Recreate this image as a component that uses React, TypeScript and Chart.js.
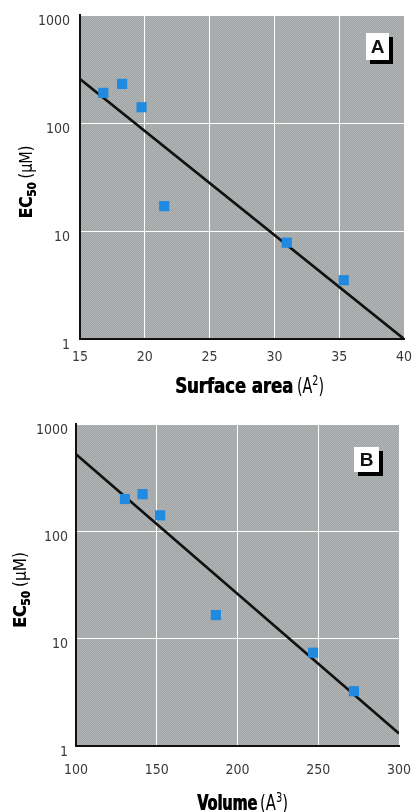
import React, { useEffect, useRef } from "react";
import { Chart, registerables } from "chart.js";

Chart.register(...registerables);

// ---------- DATA ----------
const surfaceArea = [16.8, 18.25, 19.75, 21.5, 30.95, 35.35];
const ec50A = [190, 230, 140, 17, 7.8, 3.5];
const fitAx = [15, 40];
const fitAy = [255, 1];

const volume = [130.3, 141.2, 152.1, 186.6, 246.8, 272.1];
const ec50B = [200, 222, 141, 16.6, 7.4, 3.24];
const fitBx = [100, 300];
const fitBy = [522, 1.31];

const yTicks = [1, 10, 100, 1000];
const xTicksA = [15, 20, 25, 30, 35, 40];
const xTicksB = [100, 150, 200, 250, 300];

const panelLabels = ["A", "B"];
const xTitleMain = ["Surface area", "Volume"];
const xTitleSup = ["2", "3"];

// ---------- STYLE ----------
const NARROW = '"Liberation Sans Narrow", "DejaVu Sans Condensed", "Liberation Sans", sans-serif';
const HEAVY = '"DejaVu Sans", sans-serif';
const SANS = '"Liberation Sans", Arial, sans-serif';
const BLUE = "#1f8ae0";

let bgPattern: CanvasPattern | null = null;
function getPattern(ctx: CanvasRenderingContext2D) {
  if (bgPattern) return bgPattern;
  const c = document.createElement("canvas");
  c.width = 2;
  c.height = 2;
  const g = c.getContext("2d")!;
  g.fillStyle = "#a3a6a6";
  g.fillRect(0, 0, 2, 2);
  g.fillStyle = "#b0b3b3";
  g.fillRect(0, 0, 1, 1);
  g.fillRect(1, 1, 1, 1);
  bgPattern = ctx.createPattern(c, "repeat");
  return bgPattern;
}

type Run = { text: string; font: string; dy?: number; embolden?: number };
// draws runs left-aligned at (x0, baseline y0), squeezed horizontally to targetW
function drawGroup(ctx: CanvasRenderingContext2D, runs: Run[], x0: number, y0: number, targetW: number) {
  let total = 0;
  const widths = runs.map((r) => {
    ctx.font = r.font;
    const w = ctx.measureText(r.text).width;
    total += w;
    return w;
  });
  const sx = targetW / total;
  ctx.save();
  ctx.translate(x0, y0);
  ctx.scale(sx, 1);
  let x = 0;
  ctx.textBaseline = "alphabetic";
  ctx.textAlign = "left";
  runs.forEach((r, i) => {
    ctx.font = r.font;
    ctx.fillText(r.text, x, r.dy || 0);
    if (r.embolden) {
      ctx.fillText(r.text, x + r.embolden / sx, r.dy || 0);
    }
    x += widths[i];
  });
  ctx.restore();
}

type Cfg = {
  idx: number;
  xs: number[];
  ys: number[];
  fx: number[];
  fy: number[];
  xTicks: number[];
  height: number;
  padTop: number;
  padRight: number;
  yWidth: number;
  xHeight: number;
  xPad: number;
  yPad: number;
  xt: { x: number; y: number; w1: number; gap: number; w2: number };
  yt: { cx: number; cy: number; w1: number; gap: number; w2: number };
  box: { dx: number; dy: number; w: number; h: number };
};

const configs: Cfg[] = [
  {
    idx: 0,
    xs: surfaceArea,
    ys: ec50A,
    fx: fitAx,
    fy: fitAy,
    xTicks: xTicksA,
    height: 400,
    padTop: 15,
    padRight: 8,
    yWidth: 80,
    xHeight: 61,
    xPad: 10,
    yPad: 10,
    xt: { x: 175, y: 393, w1: 118, gap: 4, w2: 27 },
    yt: { cx: 26, cy: 182, w1: 36, gap: 4, w2: 33 },
    box: { dx: 38, dy: 18, w: 23, h: 27 },
  },
  {
    idx: 1,
    xs: volume,
    ys: ec50B,
    fx: fitBx,
    fy: fitBy,
    xTicks: xTicksB,
    height: 412,
    padTop: 24,
    padRight: 13,
    yWidth: 76,
    xHeight: 66,
    xPad: 16,
    yPad: 8,
    xt: { x: 197, y: 410, w1: 60, gap: 3, w2: 28 },
    yt: { cx: 20, cy: 190, w1: 37, gap: 4, w2: 35 },
    box: { dx: 45, dy: 23, w: 25, h: 25 },
  },
];

function makeChart(canvas: HTMLCanvasElement, cfg: Cfg) {
  const decor = {
    id: "decor" + cfg.idx,
    beforeDraw(chart: any) {
      const { ctx, chartArea } = chart;
      ctx.save();
      ctx.fillStyle = getPattern(ctx);
      ctx.fillRect(chartArea.left, chartArea.top, chartArea.right - chartArea.left, chartArea.bottom - chartArea.top);
      ctx.restore();
    },
    afterDraw(chart: any) {
      const { ctx, chartArea } = chart;
      ctx.save();
      // panel label box
      const bx = chartArea.right - cfg.box.dx;
      const by = chartArea.top + cfg.box.dy;
      ctx.fillStyle = "#000";
      ctx.fillRect(bx + 4, by + 4, cfg.box.w, cfg.box.h);
      ctx.fillStyle = "#fff";
      ctx.fillRect(bx, by, cfg.box.w, cfg.box.h);
      ctx.fillStyle = "#111";
      ctx.font = "bold 19px " + SANS;
      ctx.textAlign = "center";
      ctx.textBaseline = "middle";
      ctx.fillText(panelLabels[cfg.idx], bx + cfg.box.w / 2, by + cfg.box.h / 2 + 1);

      // x title
      ctx.fillStyle = "#000";
      const xt = cfg.xt;
      drawGroup(ctx, [{ text: xTitleMain[cfg.idx], font: "bold 21px " + HEAVY, embolden: 0.7 }], xt.x, xt.y, xt.w1);
      drawGroup(
        ctx,
        [
          { text: "(A", font: "21px " + NARROW },
          { text: xTitleSup[cfg.idx], font: "14px " + NARROW, dy: -8 },
          { text: ")", font: "21px " + NARROW },
        ],
        xt.x + xt.w1 + xt.gap,
        xt.y,
        xt.w2
      );

      // y title (rotated)
      const yt = cfg.yt;
      const total = yt.w1 + yt.gap + yt.w2;
      ctx.translate(yt.cx + 6, yt.cy);
      ctx.rotate(-Math.PI / 2);
      drawGroup(
        ctx,
        [
          { text: "EC", font: "bold 18px " + HEAVY, embolden: 0.6 },
          { text: "50", font: "bold 12px " + HEAVY, dy: 4, embolden: 0.4 },
        ],
        -total / 2,
        0,
        yt.w1
      );
      drawGroup(ctx, [{ text: "(μM)", font: "18px " + NARROW }], -total / 2 + yt.w1 + yt.gap, 0, yt.w2);
      ctx.restore();
    },
  };

  return new Chart(canvas, {
    type: "scatter",
    data: {
      datasets: [
        {
          data: cfg.xs.map((x, i) => ({ x, y: cfg.ys[i] })),
          backgroundColor: BLUE,
          borderColor: BLUE,
          borderWidth: 0,
          pointStyle: "rect",
          pointRadius: 7.2,
          order: 0,
        },
        {
          type: "line",
          data: cfg.fx.map((x, i) => ({ x, y: cfg.fy[i] })),
          borderColor: "#111",
          borderWidth: 2.6,
          pointRadius: 0,
          showLine: true,
          fill: false,
          order: 1,
        } as any,
      ],
    },
    options: {
      animation: false,
      responsive: false,
      devicePixelRatio: 1,
      layout: { padding: { top: cfg.padTop, right: cfg.padRight, left: 0, bottom: 0 } },
      plugins: { legend: { display: false }, tooltip: { enabled: false } },
      scales: {
        x: {
          type: "linear",
          min: cfg.xTicks[0],
          max: cfg.xTicks[cfg.xTicks.length - 1],
          afterBuildTicks: (s: any) => {
            s.ticks = cfg.xTicks.map((v) => ({ value: v }));
          },
          afterFit: (s: any) => {
            s.height = cfg.xHeight;
            s.paddingLeft = 0;
            s.paddingRight = 0;
          },
          grid: { color: "#ffffff", lineWidth: 1, drawTicks: false },
          border: { display: true, color: "#111", width: 2 },
          ticks: {
            padding: cfg.xPad,
            color: "#3a3a3a",
            font: { family: NARROW, size: 14 },
            maxRotation: 0,
            autoSkip: false,
            callback: (v: any) => String(v),
          },
        },
        y: {
          type: "logarithmic",
          min: 1,
          max: 1000,
          afterBuildTicks: (s: any) => {
            s.ticks = yTicks.map((v) => ({ value: v }));
          },
          afterFit: (s: any) => {
            s.width = cfg.yWidth;
            s.paddingTop = 0;
            s.paddingBottom = 0;
          },
          grid: { color: "#ffffff", lineWidth: 1, drawTicks: false },
          border: { display: true, color: "#111", width: 2 },
          ticks: {
            padding: cfg.yPad,
            labelOffset: 6,
            color: "#3a3a3a",
            font: { family: NARROW, size: 14 },
            autoSkip: false,
            callback: (v: any) => String(v),
          },
        },
      },
    },
    plugins: [decor],
  } as any);
}

function Panel({ cfg }: { cfg: Cfg }) {
  const ref = useRef<HTMLCanvasElement>(null);
  useEffect(() => {
    if (!ref.current) return;
    const chart = makeChart(ref.current, cfg);
    return () => chart.destroy();
  }, [cfg]);
  return <canvas ref={ref} width={412} height={cfg.height} style={{ display: "block", width: 412, height: cfg.height }} />;
}

export default function App() {
  return (
    <div style={{ position: "absolute", left: 0, top: 0, width: 412, height: 812, background: "#fff", overflow: "hidden" }}>
      {configs.map((c) => (
        <Panel key={c.idx} cfg={c} />
      ))}
    </div>
  );
}
